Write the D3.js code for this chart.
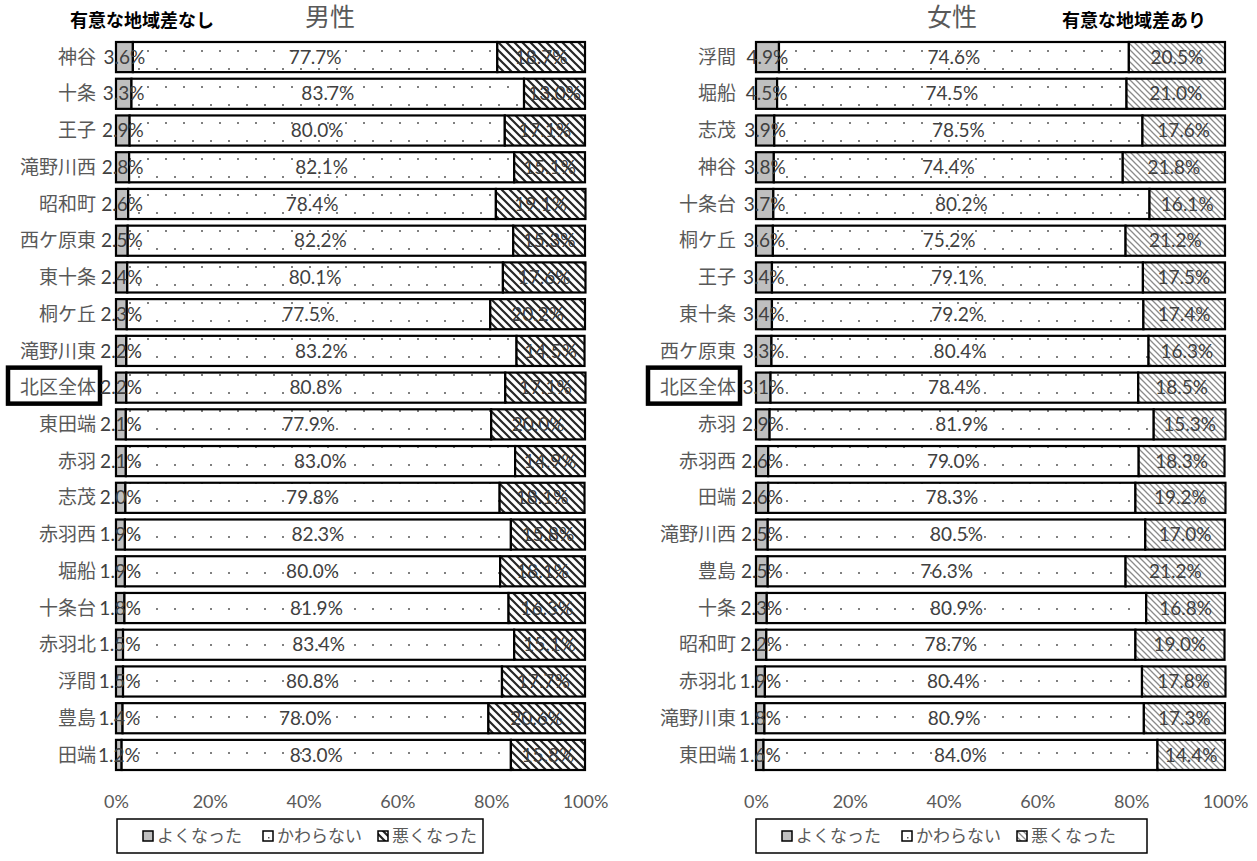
<!DOCTYPE html>
<html><head><meta charset="utf-8">
<script src="https://cdn.jsdelivr.net/npm/d3@7"></script>
<style>
body{margin:0;background:#fff;}
svg{display:block;}
text{font-family:"Lato","Noto Sans CJK JP",sans-serif;}
</style></head>
<body><svg id="chart" width="1257" height="861"></svg>
<script>
const series = ["よくなった","かわらない","悪くなった"];
const ticks = [0,20,40,60,80,100];

const maleNames = ["神谷","十条","王子","滝野川西","昭和町","西ケ原東","東十条","桐ケ丘","滝野川東","北区全体","東田端","赤羽","志茂","赤羽西","堀船","十条台","赤羽北","浮間","豊島","田端"];
const maleGood  = [3.6,3.3,2.9,2.8,2.6,2.5,2.4,2.3,2.2,2.2,2.1,2.1,2.0,1.9,1.9,1.8,1.5,1.5,1.4,1.2];
const maleSame  = [77.7,83.7,80.0,82.1,78.4,82.2,80.1,77.5,83.2,80.8,77.9,83.0,79.8,82.3,80.0,81.9,83.4,80.8,78.0,83.0];
const maleBad   = [18.7,13.0,17.1,15.1,19.1,15.3,17.6,20.2,14.5,17.1,20.0,14.9,18.1,15.8,18.1,16.3,15.1,17.7,20.6,15.8];

const femaleNames = ["浮間","堀船","志茂","神谷","十条台","桐ケ丘","王子","東十条","西ケ原東","北区全体","赤羽","赤羽西","田端","滝野川西","豊島","十条","昭和町","赤羽北","滝野川東","東田端"];
const femaleGood  = [4.9,4.5,3.9,3.8,3.7,3.6,3.4,3.4,3.3,3.1,2.9,2.6,2.6,2.5,2.5,2.3,2.2,1.9,1.8,1.6];
const femaleSame  = [74.6,74.5,78.5,74.4,80.2,75.2,79.1,79.2,80.4,78.4,81.9,79.0,78.3,80.5,76.3,80.9,78.7,80.4,80.9,84.0];
const femaleBad   = [20.5,21.0,17.6,21.8,16.1,21.2,17.5,17.4,16.3,18.5,15.3,18.3,19.2,17.0,21.2,16.8,19.0,17.8,17.3,14.4];

const svg = d3.select("#chart");
const defs = svg.append("defs");

// dotted pattern (かわらない)
const pDot = defs.append("pattern").attr("id","dots").attr("patternUnits","userSpaceOnUse")
  .attr("width",18).attr("height",36).attr("x",3).attr("y",14);
pDot.append("rect").attr("width",18).attr("height",36).attr("fill","#fff");
pDot.append("rect").attr("x",0).attr("y",0).attr("width",2).attr("height",2).attr("fill","#808080");
pDot.append("rect").attr("x",9).attr("y",18).attr("width",2).attr("height",2).attr("fill","#808080");

function hatch(id, s, color, w){
  const p = defs.append("pattern").attr("id",id).attr("patternUnits","userSpaceOnUse")
    .attr("width",s).attr("height",s);
  p.append("rect").attr("width",s).attr("height",s).attr("fill","#fff");
  p.append("path").attr("d",`M0,0L${s},${s}M${-s/2},${s/2}L${s/2},${s*1.5}M${s/2},${-s/2}L${s*1.5},${s/2}`)
    .attr("stroke",color).attr("stroke-width",w);
}
hatch("hatchM", 8, "#262626", 2.2);
hatch("hatchF", 6, "#8a8a8a", 1.3);

const y = d3.scaleBand().domain(d3.range(20)).range([42,770]).paddingInner(0.18);

function panel(names, good, same, bad, x0, x1, hatchId, title, titleX, note, noteX, legendX0, legendX1){
  const x = d3.scaleLinear().domain([0,100]).range([x0,x1]);
  const g = svg.append("g");
  const rows = names.map((n,i)=>({n,i,v:[good[i],same[i],bad[i]]}));
  const fills = ["#bfbfbf","url(#dots)",`url(#${hatchId})`];

  // box around 北区全体
  const ki = names.indexOf("北区全体");
  g.append("rect").attr("x",x0-108).attr("y",y(ki)+y.bandwidth()/2-20)
    .attr("width",92).attr("height",36).attr("fill","none").attr("stroke","#000").attr("stroke-width",4.5);

  // category labels
  g.selectAll("text.cat").data(rows).join("text").attr("class","cat")
    .attr("x",x0-20).attr("y",d=>y(d.i)+y.bandwidth()/2).attr("dy","0.35em")
    .attr("text-anchor","end").attr("font-size",19).attr("fill","#595959").text(d=>d.n);

  // segments
  rows.forEach(r=>{
    let c=0;
    r.v.forEach((v,k)=>{
      g.append("rect").attr("x",x(c)).attr("y",y(r.i)).attr("width",x(c+v)-x(c)).attr("height",y.bandwidth())
        .attr("fill",fills[k]).attr("stroke","#000").attr("stroke-width",2.2);
      c+=v;
    });
  });
  // value labels
  rows.forEach(r=>{
    let c=0;
    r.v.forEach((v,k)=>{
      g.append("text").attr("x",x(c+v/2)).attr("y",y(r.i)+y.bandwidth()/2).attr("dy","0.35em")
        .attr("text-anchor","middle").attr("font-size",19).attr("fill","#404040").text(v.toFixed(1)+"%");
      c+=v;
    });
  });

  // axis
  const ax = g.append("g").attr("transform","translate(0,802)")
    .call(d3.axisBottom(x).tickValues(ticks).tickFormat(d=>d+"%").tickSize(0).tickPadding(0));
  ax.select(".domain").remove();
  ax.selectAll("text").attr("y",0).attr("dy","0.35em").attr("font-size",18).attr("fill","#595959")
    .attr("font-family","Lato, 'Noto Sans CJK JP', sans-serif");

  // titles
  g.append("text").attr("x",titleX).attr("y",17).attr("dy","0.35em").attr("text-anchor","middle")
    .attr("font-size",25).attr("fill","#595959").text(title);
  g.append("text").attr("x",noteX).attr("y",21).attr("dy","0.35em").attr("text-anchor","middle")
    .attr("font-size",18).attr("font-weight","bold").attr("fill","#000").text(note);

  // legend
  g.append("rect").attr("x",legendX0).attr("y",819).attr("width",legendX1-legendX0).attr("height",34)
    .attr("fill","#fff").attr("stroke","#000").attr("stroke-width",1.5);
  const lx = [legendX0+26, legendX0+146, legendX0+261];
  series.forEach((s,k)=>{
    g.append("rect").attr("x",lx[k]).attr("y",831).attr("width",10).attr("height",10)
      .attr("fill",k==0?"#bfbfbf":(k==1?"#fff":`url(#${hatchId})`)).attr("stroke","#000").attr("stroke-width",1.5);
    if(k==1) g.append("rect").attr("x",lx[k]+5).attr("y",837).attr("width",1.5).attr("height",1.5).attr("fill","#555");
    g.append("text").attr("x",lx[k]+14).attr("y",836).attr("dy","0.35em").attr("font-size",17)
      .attr("fill","#595959").text(s);
  });
}

panel(maleNames, maleGood, maleSame, maleBad, 116, 585, "hatchM", "男性", 330, "有意な地域差なし", 142, 117, 483);
panel(femaleNames, femaleGood, femaleSame, femaleBad, 756, 1225, "hatchF", "女性", 952, "有意な地域差あり", 1134, 756, 1147);
</script></body></html>
